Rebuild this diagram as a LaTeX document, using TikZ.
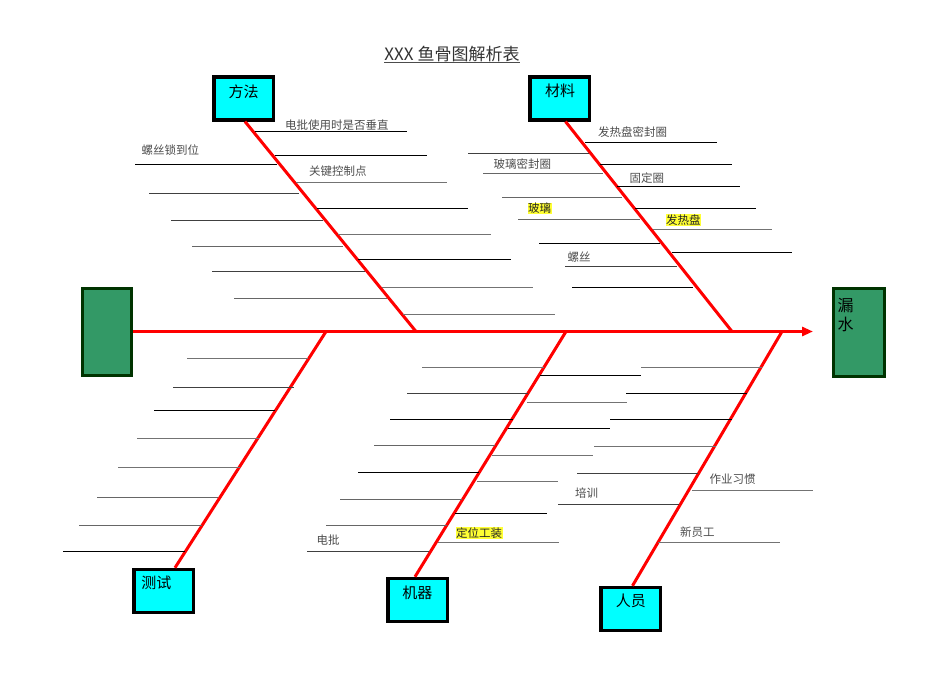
\documentclass[tikz,border=0pt]{standalone}
\usepackage{fontspec}
\newfontfamily\cjk{Noto Sans CJK SC}
\usetikzlibrary{arrows.meta,calc}
\definecolor{cyanbox}{HTML}{00FFFF}
\definecolor{greenbox}{HTML}{339966}
\definecolor{greenedge}{HTML}{003300}
\definecolor{bonered}{HTML}{FF0000}
\definecolor{hl}{HTML}{FFFF33}
\begin{document}
\begin{tikzpicture}[x=1pt,y=-1pt,
  catbox/.style={draw=black, line width=3.5pt, fill=cyanbox, minimum width=59.5pt, minimum height=43pt, inner sep=0},
  effbox/.style={draw=greenedge, line width=3pt, fill=greenbox, minimum width=49pt, minimum height=87pt, inner sep=0},
  cattext/.style={font=\cjk\fontsize{15}{15}\selectfont, inner sep=0},
  bone/.style={draw=bonered, line width=3pt},
  twig/.style={line width=0.9pt},
  lbl/.style={font=\cjk\fontsize{11.5}{12}\selectfont, text=black!70, inner sep=0, anchor=west},
  hlbl/.style={lbl, text=black!85, fill=hl, inner sep=0.6pt},
]
\useasboundingbox (0,0) rectangle (950,672);

% title
\node[font=\cjk\fontsize{17}{17}\selectfont, text=black!80, inner sep=0] (title) at (452,53.7) {XXX 鱼骨图解析表};
\draw[black!70, line width=0.8pt] (title.west |- 0,62.5) -- (title.east |- 0,62.5);

% boxes
\node[catbox] (fangfa) at (243.5,98.3) {};
\node[cattext] (fangfaT) at (243.5,91.5) {方法};
\node[catbox] (cailiao) at (559.5,98.3) {};
\node[cattext] (cailiaoT) at (560,90.5) {材料};
\node[catbox] (ceshi) at (163.5,591) {};
\node[cattext] (ceshiT) at (156.3,583.3) {测试};
\node[catbox] (jiqi) at (417.5,600) {};
\node[cattext] (jiqiT) at (417.3,592.5) {机器};
\node[catbox] (renyuan) at (630.5,609) {};
\node[cattext] (renyuanT) at (630.8,600.5) {人员};

\node[effbox] (lbox) at (107,331.5) {};
\node[effbox, minimum width=51pt, minimum height=88pt] (rbox) at (859,332.5) {};
\node[font=\cjk\fontsize{16}{19}\selectfont, inner sep=0, align=left, anchor=north west] (rboxT) at (837.5,298.3) {漏\\水};

% junctions on spine
\coordinate (j1) at (416,331.5);
\coordinate (j2) at (732,331.5);
\coordinate (j3) at (326,331.5);
\coordinate (j4) at (566,331.5);
\coordinate (j5) at (782,331.5);
\coordinate (tip) at (813,331.5);

% spine
\draw[bone, -{Triangle[length=11pt,width=9pt]}] (lbox.east |- j1) -- (tip);

% bones
\draw[bone] ($(fangfa.south)+(1.5,0)$) -- (j1);
\draw[bone] ($(cailiao.south)+(6,0)$) -- (j2);
\draw[bone] (j3) -- ($(ceshi.north)+(11.5,0)$);
\draw[bone] (j4) -- ($(jiqi.north)+(-2.5,0)$);
\draw[bone] (j5) -- ($(renyuan.north)+(2,0)$);

% twigs
\foreach \y/\a/\b/\c in {
 131/255/407/black, 155/275/427/black, 164/135/277/black, 182/296/447/black!55,
 193/149/299/black!75, 208/317/468/black, 220/171/323/black!75, 234/338/491/black!55,
 246/192/343/black!60, 259/358/511/black, 271/212/365/black!75, 287/382/533/black!55,
 298/234/387/black!60, 314/403/555/black!55,
 142/585/717/black, 153/468/589/black!75, 164/600/732/black, 173/483/603/black!60,
 186/617/740/black, 197/502/622/black!60, 208/635/756/black, 219/518/640/black!60,
 229/653/772/black!55, 243/539/660/black, 252/672/792/black, 266/565/677/black!75,
 287/572/693/black,
 358/187/308/black!55, 387/173/294/black!75, 410/154/275/black, 438/137/259/black!55,
 467/118/240/black!55, 497/97/218/black!60, 525/79/202/black!60, 551/63/185/black,
 367/422/544/black!55, 375/540/641/black, 393/407/528/black!75, 402/527/627/black!55,
 419/390/513/black, 428/508/610/black, 445/374/495/black!60, 455/492/593/black!55,
 472/358/479/black, 481/477/558/black!55, 499/340/462/black!60, 513/455/547/black,
 525/326/447/black!60, 542/438/559/black!55, 551/307/429/black!75,
 367/641/762/black!55, 393/626/747/black, 419/610/732/black, 446/594/716/black!55,
 473/577/698/black!75, 490/692/813/black!55, 504/558/679/black!75, 542/658/780/black!55}
 \draw[twig, draw=\c] (\a,\y) -- (\b,\y);

% labels
\node[lbl] (l1) at (285,125.5) {电批使用时是否垂直};
\node[lbl] (l2) at (141.5,150) {螺丝锁到位};
\node[lbl] (l3) at (309,171) {关键控制点};
\node[lbl] (l4) at (598,132) {发热盘密封圈};
\node[lbl] (l5) at (493.5,164) {玻璃密封圈};
\node[lbl] (l6) at (629.5,178) {固定圈};
\node[hlbl] (l7) at (527.4,208.5) {玻璃};
\node[hlbl] (l8) at (665.4,220) {发热盘};
\node[lbl] (l9) at (567.5,257) {螺丝};
\node[lbl] (l10) at (316.5,540.5) {电批};
\node[hlbl] (l11) at (455.4,533.3) {定位工装};
\node[lbl] (l12) at (709.3,479.5) {作业习惯};
\node[lbl] (l13) at (575,493) {培训};
\node[lbl] (l14) at (680,531.7) {新员工};
\end{tikzpicture}
\end{document}
